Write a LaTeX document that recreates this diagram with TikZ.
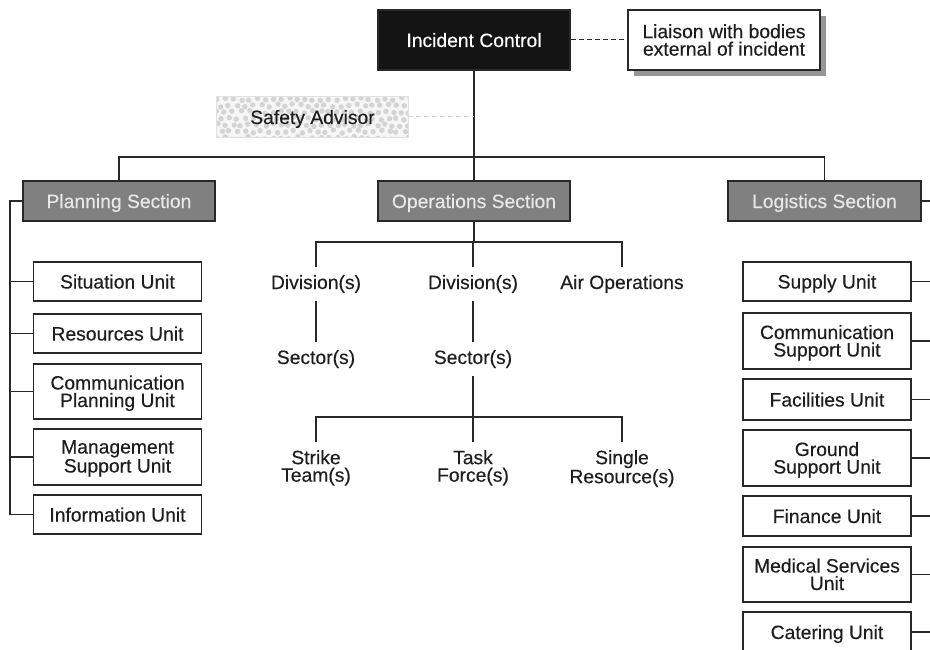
\documentclass[tikz,border=0pt]{standalone}
\usepackage{fontspec}
\setmainfont[FakeBold=0.3]{Liberation Sans}
\usetikzlibrary{shadows,backgrounds}
\definecolor{ink}{RGB}{30,30,30}
\definecolor{linecol}{RGB}{40,40,40}
\definecolor{secfill}{RGB}{128,128,128}
\definecolor{sectext}{RGB}{232,232,232}
\definecolor{dotbg}{RGB}{246,246,246}
\definecolor{dotcol}{RGB}{212,212,212}
\definecolor{shadowcol}{RGB}{150,150,150}

\begin{document}
\begin{tikzpicture}[x=1pt,y=-1pt,
  every node/.style={font=\fontsize{19.3}{17.5}\selectfont, text=ink},
  wire/.style={draw=linecol, line width=1.6pt},
  unitbox/.style={draw=linecol, line width=1.6pt, fill=white, minimum width=168pt, align=center, inner sep=0pt},
  oneline/.style={text height=14pt, text depth=0pt},
  twoline/.style={text height=33.25pt, text depth=2.25pt},
  secbox/.style={draw=linecol, line width=1.6pt, fill=secfill, text=sectext, minimum width=192pt, minimum height=40pt, inner sep=0pt, text height=14pt, text depth=0pt},
  optext/.style={text height=14pt, text depth=4pt, inner xsep=2pt, inner ysep=8pt},
  optwo/.style={align=center, inner xsep=2pt, inner ysep=8pt, anchor=north},
]
\useasboundingbox (0,0) rectangle (930,650);
\clip (0,0) rectangle (930,650);

% command level
\node[draw=linecol, fill=black!92, text=white, line width=1.6pt, minimum width=192pt, minimum height=60pt, inner sep=0pt, oneline] (ic) at (474,40) {Incident Control};
\node[unitbox, minimum width=192pt, minimum height=60pt, drop shadow={shadow xshift=6pt, shadow yshift=-6pt, fill=shadowcol, opacity=1}] (liaison) at (724,40) {Liaison with bodies\\external of incident};
\node[inner sep=0pt, minimum width=191pt, minimum height=40pt, oneline] (safe) at (312.5,117) {Safety Advisor};

% dotted texture behind the safety advisor
\begin{scope}[on background layer]
  \fill[dotbg] (safe.north west) rectangle (safe.south east);
  \begin{scope}
    \clip (safe.north west) rectangle (safe.south east);
    \pgfmathsetseed{7}
    \foreach \j in {0,...,6} {
      \foreach \i in {0,...,25} {
        \pgfmathsetmacro{\dx}{217 + \i*8 + mod(\j,2)*4 + rand*1.5}
        \pgfmathsetmacro{\dy}{99 + \j*6.5 + rand*1.5}
        \fill[dotcol] (\dx,\dy) circle (2.7pt);
      }
    }
  \end{scope}
  \draw[dotcol!70, line width=0.8pt] (safe.north west) rectangle (safe.south east);
\end{scope}

% sections
\node[secbox] (plan) at (119,201) {Planning Section};
\node[secbox] (ops) at (474,201) {Operations Section};
\node[secbox, minimum width=193pt] (logi) at (824.5,201) {Logistics Section};

% planning units
\node[unitbox, oneline, minimum height=39pt] (sit) at (117.5,281.5) {Situation Unit};
\node[unitbox, oneline, minimum height=39pt] (res) at (117.5,333.5) {Resources Unit};
\node[unitbox, twoline, minimum height=55pt] (cpu) at (117.5,391.5) {Communication\\Planning Unit};
\node[unitbox, twoline, minimum height=56pt] (msu) at (117.5,457) {Management\\Support Unit};
\node[unitbox, oneline, minimum height=39pt] (inf) at (117.5,514.5) {Information Unit};

% logistics units
\node[unitbox, oneline, minimum height=39pt] (sup) at (827,281.5) {Supply Unit};
\node[unitbox, twoline, minimum height=56pt] (csu) at (827,341) {Communication\\Support Unit};
\node[unitbox, oneline, minimum height=41pt] (fac) at (827,399.5) {Facilities Unit};
\node[unitbox, twoline, minimum height=56pt] (gsu) at (827,458) {Ground\\Support Unit};
\node[unitbox, oneline, minimum height=40pt] (fin) at (827,516) {Finance Unit};
\node[unitbox, twoline, minimum height=55pt] (med) at (827,574.5) {Medical Services\\Unit};
\node[unitbox, oneline, minimum height=40pt] (cat) at (827,632) {Catering Unit};

% operations branches
\node[optext] (div1) at (316,284) {Division(s)};
\node[optext] (div2) at (473,284) {Division(s)};
\node[optext] (air) at (622,284) {Air Operations};
\node[optext] (sec1) at (316,359) {Sector(s)};
\node[optext] (sec2) at (473,359) {Sector(s)};
\node[optwo] (strike) at (316,442) {Strike\\Team(s)};
\node[optwo] (task) at (473,442) {Task\\Force(s)};
\node[optwo] (single) at (622,442) {Single\\Resource(s)};

% connectors: command to sections
\coordinate (hub) at (474,157);
\draw[wire] (ic.south) -- (hub);
\draw[wire] (plan.north) |- (hub) -| (logi.north);
\draw[wire] (hub) -- (ops.north);
\draw[draw=linecol, line width=1pt, dash pattern=on 5pt off 3pt] (ic.east) -- (liaison.west);
\draw[draw=dotcol, line width=1pt, dash pattern=on 5pt off 3pt] (safe.east) -- (safe.east -| ic.south);

% planning spine
\coordinate (lspine) at (10,201);
\draw[wire] (plan.west) -- (lspine) |- (inf.west);
\foreach \u in {sit,res,cpu,msu} \draw[wire] (\u.west) -- (\u.west -| lspine);

% logistics spine (runs off the right edge)
\coordinate (rspine) at (940,201);
\draw[wire] (logi.east) -- (rspine);
\foreach \u in {sup,csu,fac,gsu,fin,med,cat} \draw[wire] (\u.east) -- (\u.east -| rspine);

% operations tree
\coordinate (obar) at (473,242);
\draw[wire] (ops.south) -- (ops.south |- obar);
\draw[wire] (div1.north) |- (obar) -| (air.north);
\draw[wire] (obar) -- (div2.north);
\draw[wire] (div1.south) -- (sec1.north);
\draw[wire] (div2.south) -- (sec2.north);
\coordinate (sbar) at (473,417);
\draw[wire] (sec2.south) -- (sbar);
\draw[wire] (strike.north) |- (sbar) -| (single.north);
\draw[wire] (sbar) -- (task.north);
\end{tikzpicture}
\end{document}
